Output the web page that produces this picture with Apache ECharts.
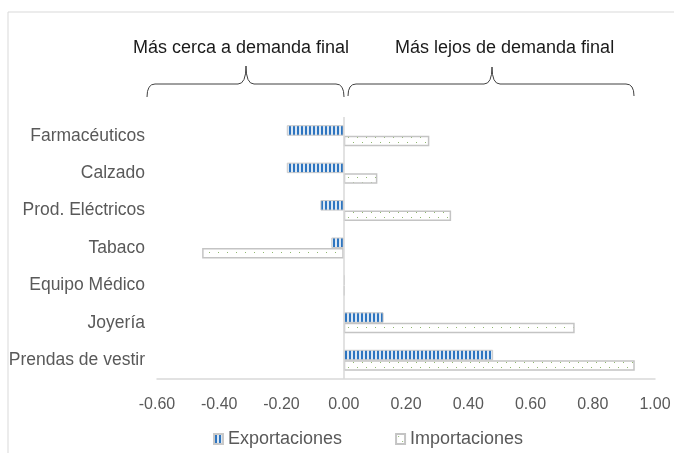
<!DOCTYPE html>
<html>
<head>
<meta charset="utf-8">
<script src="https://cdn.jsdelivr.net/npm/echarts@6/dist/echarts.min.js"></script>
<style>html,body{margin:0;padding:0;background:#fff;}#c{width:674px;height:453px;}</style>
</head>
<body>
<div id="c"></div>
<script>
var categories = ['Farmacéuticos', 'Calzado', 'Prod. Eléctricos', 'Tabaco', 'Equipo Médico', 'Joyería', 'Prendas de vestir'];
var exportaciones = [-0.183, -0.183, -0.075, -0.040, 0.004, 0.128, 0.480];
var importaciones = [0.275, 0.108, 0.345, -0.455, 0.003, 0.742, 0.935];
var xTicks = { min: -0.6, max: 1.0, interval: 0.2 };
var leftLabel = 'Más cerca a demanda final';
var rightLabel = 'Más lejos de demanda final';

function stripePattern() {
  var c = document.createElement('canvas');
  c.width = 4; c.height = 4;
  var g = c.getContext('2d');
  g.fillStyle = '#dce8f4'; g.fillRect(0, 0, 4, 4);
  g.fillStyle = '#2e75c0'; g.fillRect(1, 0, 2, 4);
  return c;
}
function dotPattern() {
  var c = document.createElement('canvas');
  c.width = 9; c.height = 10;
  var g = c.getContext('2d');
  g.fillStyle = '#ffffff'; g.fillRect(0, 0, 9, 10);
  g.fillStyle = '#8fb86e';
  g.fillRect(2, 2, 1, 1);
  g.fillRect(6, 7, 1, 1);
  return c;
}

var chart = echarts.init(document.getElementById('c'), null, { renderer: 'canvas' });
var font = 'Liberation Sans, Arial, sans-serif';

function brace(x1, x2, xm, yTop, yBar, yEnd) {
  var r = 8;
  var st = { fill: null, stroke: '#404040', lineWidth: 1 };
  return [
    { type: 'bezierCurve', shape: { x1: x1, y1: yEnd, cpx1: x1, cpy1: yBar, x2: x1 + r, y2: yBar }, style: st },
    { type: 'line', shape: { x1: x1 + r, y1: yBar, x2: xm - r, y2: yBar }, style: st },
    { type: 'bezierCurve', shape: { x1: xm - r, y1: yBar, cpx1: xm, cpy1: yBar, x2: xm, y2: yTop }, style: st },
    { type: 'bezierCurve', shape: { x1: xm, y1: yTop, cpx1: xm, cpy1: yBar, x2: xm + r, y2: yBar }, style: st },
    { type: 'line', shape: { x1: xm + r, y1: yBar, x2: x2 - r, y2: yBar }, style: st },
    { type: 'bezierCurve', shape: { x1: x2 - r, y1: yBar, cpx1: x2, cpy1: yBar, x2: x2, y2: yEnd }, style: st }
  ];
}

var graphics = [
  { type: 'line', shape: { x1: 8, y1: 12, x2: 674, y2: 12 }, style: { stroke: '#d9d9d9', lineWidth: 1 } },
  { type: 'line', shape: { x1: 8, y1: 12, x2: 8, y2: 453 }, style: { stroke: '#d9d9d9', lineWidth: 1 } },
  { type: 'text', left: 133, top: 39, style: { text: leftLabel, fontSize: 18, fill: '#1a1a1a', fontFamily: font } },
  { type: 'text', left: 395, top: 39, style: { text: rightLabel, fontSize: 18, fill: '#1a1a1a', fontFamily: font } }
].concat(brace(147, 344, 246, 66, 84, 97)).concat(brace(348, 634, 492, 67, 84, 96));

chart.setOption({
  animation: false,
  textStyle: { fontFamily: font },
  grid: { left: 157, right: 19, top: 117, bottom: 74, containLabel: false },
  legend: {
    top: 425,
    left: 208,
    itemWidth: 9,
    itemHeight: 10,
    itemGap: 53,
    icon: 'rect',
    textStyle: { fontSize: 18, color: '#595959', fontFamily: font },
    data: ['Exportaciones', 'Importaciones']
  },
  xAxis: {
    type: 'value',
    min: xTicks.min,
    max: xTicks.max,
    interval: xTicks.interval,
    axisLine: { show: true, onZero: false, lineStyle: { color: '#d9d9d9', width: 1.5 } },
    axisTick: { show: false },
    splitLine: { show: false },
    axisLabel: {
      margin: 18,
      fontSize: 16,
      color: '#595959',
      fontFamily: font,
      formatter: function (v) { return v.toFixed(2); }
    }
  },
  yAxis: {
    type: 'category',
    inverse: true,
    data: categories,
    axisLine: { show: false },
    axisTick: { show: false },
    axisLabel: { margin: 12, fontSize: 17.5, color: '#595959', fontFamily: font }
  },
  series: [
    {
      name: 'Exportaciones',
      type: 'bar',
      data: exportaciones,
      barWidth: 10.5,
      barGap: '0%',
      itemStyle: { color: { image: stripePattern(), repeat: 'repeat' }, borderColor: '#c9c9c9', borderWidth: 1 },
      markLine: {
        silent: true,
        symbol: 'none',
        label: { show: false },
        lineStyle: { color: '#d9d9d9', width: 1.5, type: 'solid' },
        data: [{ xAxis: 0 }]
      }
    },
    {
      name: 'Importaciones',
      type: 'bar',
      data: importaciones,
      barWidth: 10.5,
      barGap: '0%',
      itemStyle: { color: { image: dotPattern(), repeat: 'repeat' }, borderColor: '#c4c4c4', borderWidth: 1.5 }
    }
  ],
  graphic: graphics
});
</script>
</body>
</html>
